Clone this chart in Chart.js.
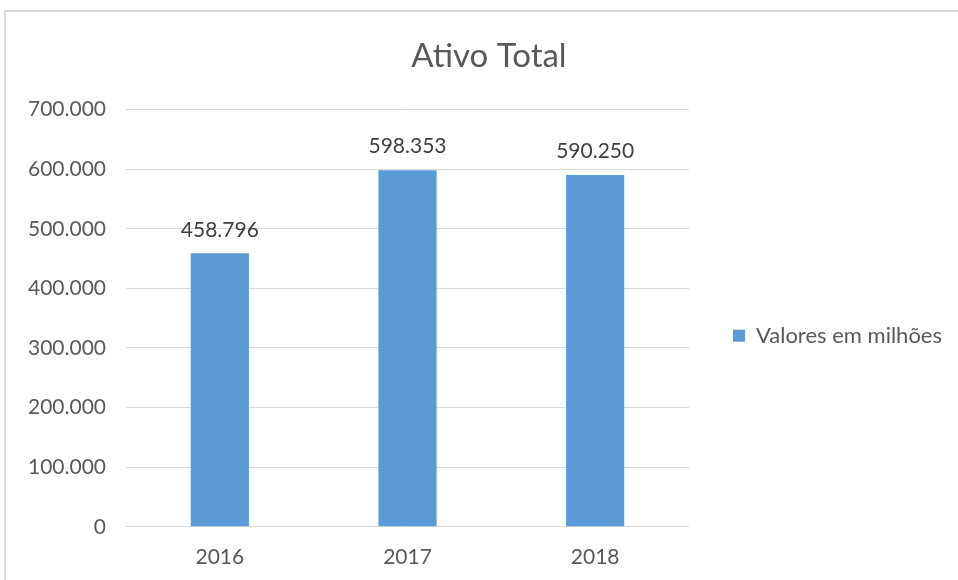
<!DOCTYPE html>
<html>
<head>
<meta charset="utf-8">
<script src="https://cdn.jsdelivr.net/npm/chart.js@4"></script>
<style>
  html, body { margin: 0; padding: 0; background: #fff; overflow: hidden; }
  #frame { position: absolute; left: 4px; top: 10px; width: 970px; height: 600px; border: 2px solid #d9d9d9; box-sizing: border-box; }
  #wrap { position: absolute; left: 0; top: 0; width: 958px; height: 580px; }
</style>
</head>
<body>
<div id="frame"></div>
<div id="wrap"><canvas id="c" width="958" height="580"></canvas></div>
<script>
// data
const anos = ['2016', '2017', '2018'];
const valores = [458796, 598353, 590250];
const serie = 'Valores em milhões';
const titulo = 'Ativo Total';

function fmt(v) {
  return String(Math.round(v)).replace(/\B(?=(\d{3})+(?!\d))/g, '.');
}

const fonte = 'Lato, "Open Sans", sans-serif';

// rótulos em cima das barras
const rotulos = {
  id: 'rotulos',
  afterDatasetsDraw(chart) {
    const ctx = chart.ctx;
    const meta = chart.getDatasetMeta(0);
    ctx.save();
    ctx.font = '21px ' + fonte;
    ctx.fillStyle = '#404040';
    ctx.textAlign = 'center';
    ctx.textBaseline = 'bottom';
    meta.data.forEach((bar, i) => {
      ctx.fillText(fmt(chart.data.datasets[0].data[i]), bar.x, bar.y - 13);
    });
    ctx.restore();
  }
};

var ctx = document.getElementById('c').getContext('2d');
var grafico = new Chart(ctx, {
  type: 'bar',
  data: {
    labels: anos,
    datasets: [{
      label: serie,
      data: valores,
      backgroundColor: '#5b9bd5',
      borderWidth: 0,
      barPercentage: 0.31,
      categoryPercentage: 1
    }]
  },
  options: {
    responsive: false,
    animation: false,
    layout: { padding: { left: 26, right: 6, top: 37, bottom: 0 } },
    plugins: {
      title: {
        display: true,
        text: titulo,
        color: '#595959',
        font: { family: fonte, size: 33, weight: 'normal' },
        padding: { top: 0, bottom: 33 }
      },
      legend: {
        position: 'right',
        maxWidth: 320,
        // título vazio só para descer a legenda
        title: { display: true, text: '', font: { size: 12 }, padding: { top: 20, bottom: 20 } },
        labels: {
          color: '#595959',
          font: { family: fonte, size: 22 },
          boxWidth: 12,
          boxHeight: 12,
          padding: 44
        }
      },
      tooltip: { enabled: false }
    },
    scales: {
      x: {
        grid: { display: false },
        border: { display: false },
        ticks: { color: '#595959', font: { family: fonte, size: 21 }, padding: 10 }
      },
      y: {
        min: 0,
        max: 700000,
        grid: { color: '#d9d9d9', drawTicks: false },
        border: { display: false },
        afterFit: s => { s.width = 100; },
        ticks: {
          stepSize: 100000,
          color: '#595959',
          font: { family: fonte, size: 21 },
          padding: 20,
          callback: v => fmt(v)
        }
      }
    }
  },
  plugins: [rotulos]
});
</script>
</body>
</html>
